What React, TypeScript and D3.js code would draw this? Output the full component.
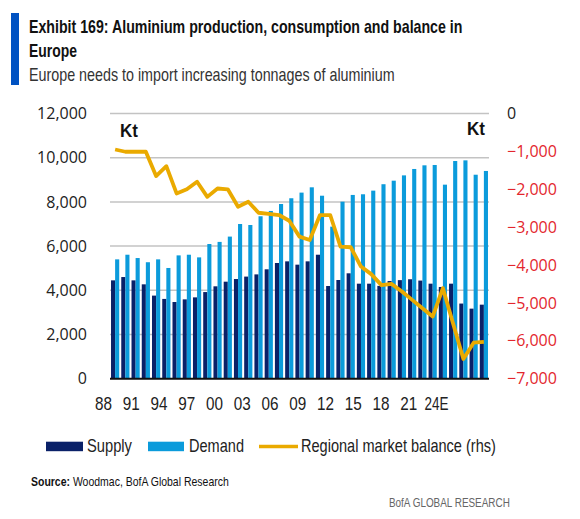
import React, { useLayoutEffect, useRef, useState } from "react";
import * as d3 from "d3";

const years = ["1988","1989","1990","1991","1992","1993","1994","1995","1996","1997","1998","1999","2000","2001","2002","2003","2004","2005","2006","2007","2008","2009","2010","2011","2012","2013","2014","2015","2016","2017","2018","2019","2020","2021","2022","2023","2024"];

const supply = [4450, 4600, 4450, 4270, 3760, 3610, 3470, 3590, 3680, 3920, 4180, 4390,
  4510, 4620, 4720, 4950, 5235, 5310, 5160, 5310, 5610, 4195, 4466, 4769,
  4300, 4300, 4200, 4420, 4460, 4500, 4440, 4300, 4150, 4300, 3400, 3170, 3350];

const demand = [5400, 5610, 5460, 5270, 5400, 5010, 5580, 5610, 5490, 6095, 6190, 6430,
  7000, 6955, 7350, 7590, 7905, 8165, 8420, 8660, 8280, 6880, 8010, 8315,
  8345, 8510, 8800, 8960, 9200, 9490, 9655, 9670, 8780, 9850, 9880, 9230, 9400];

const balance = [-950, -1010, -1010, -1010, -1650, -1390, -2110, -2000, -1800, -2200, -1980, -2000,
  -2460, -2330, -2620, -2650, -2680, -2830, -3250, -3340, -2680, -2680, -3515, -3530,
  -4040, -4240, -4530, -4500, -4700, -4920, -5140, -5360, -4610, -5550, -6480, -6050, -6030];

const xTickLabels = ["88","91","94","97","00","03","06","09","12","15","18","21","24E"];
const leftTicks = [0, 2000, 4000, 6000, 8000, 10000, 12000];
const rightTicks = [0, -1000, -2000, -3000, -4000, -5000, -6000, -7000];

const C_SUPPLY = "#0a2168";
const C_DEMAND = "#0b9bdb";
const C_LINE = "#EAAA00";
const NARROW = "'Liberation Sans Narrow', 'Arial Narrow', 'Liberation Sans', sans-serif";
const AXISF = "'Open Sans', 'Noto Sans', sans-serif";

type FitProps = {
  x: number; y: number; width: number; anchor?: "start" | "middle";
  fontSize: number; fontWeight?: string; fill: string; children: React.ReactNode;
};

function FitText({ x, y, width, anchor = "start", fontSize, fontWeight, fill, children }: FitProps) {
  const ref = useRef<SVGTextElement>(null);
  const [sx, setSx] = useState(1);
  useLayoutEffect(() => {
    if (ref.current) {
      const w = ref.current.getBBox().width;
      if (w > 0) setSx(width / w);
    }
  }, [width]);
  return (
    <g transform={`translate(${x},${y}) scale(${sx},1)`}>
      <text ref={ref} x={0} y={0} textAnchor={anchor} fontFamily={NARROW} fontSize={fontSize} fontWeight={fontWeight} fill={fill}>
        {children}
      </text>
    </g>
  );
}

export default function App() {
  const left = 110, right = 489, top = 113.5, bottom = 378.7;
  const x = d3.scaleBand<string>().domain(years).range([left, right]).paddingInner(0.2).paddingOuter(0.1);
  const yL = d3.scaleLinear().domain([0, 12000]).range([bottom, top]);
  const yR = d3.scaleLinear().domain([-7000, 0]).range([bottom, top]);
  const xl = d3.scalePoint<string>().domain(xTickLabels).range([103.5, 436.5]);
  const bw = x.bandwidth() / 2;
  const fmt = d3.format(",");
  const line = d3.line<number>()
    .x((_, i) => (x(years[i]) as number) + x.bandwidth() / 2)
    .y((d) => yR(d));

  return (
    <svg width={580} height={519} style={{ position: "absolute", left: 0, top: 0, display: "block", background: "#fff" }}>
      {/* header */}
      <rect x={11} y={13} width={8} height={72} fill="#0052C2" />
      <FitText x={29} y={33} width={434} fontSize={18} fontWeight="bold" fill="#111">Exhibit 169: Aluminium production, consumption and balance in</FitText>
      <FitText x={29} y={57} width={48} fontSize={18} fontWeight="bold" fill="#111">Europe</FitText>
      <FitText x={29} y={81} width={366} fontSize={17.5} fill="#333">Europe needs to import increasing tonnages of aluminium</FitText>

      {/* grid */}
      {leftTicks.filter((t) => t > 0).map((t) => (
        <line key={t} x1={left} x2={right} y1={yL(t)} y2={yL(t)} stroke="#c3c3c3" strokeWidth={1.5} />
      ))}

      {/* bars */}
      {years.map((yr, i) => (
        <g key={yr}>
          <rect x={x(yr)} y={yL(supply[i])} width={bw} height={yL(0) - yL(supply[i])} fill={C_SUPPLY} />
          <rect x={(x(yr) as number) + bw} y={yL(demand[i])} width={bw} height={yL(0) - yL(demand[i])} fill={C_DEMAND} />
        </g>
      ))}

      <line x1={left} x2={right} y1={yL(0)} y2={yL(0)} stroke="#111" strokeWidth={2} />

      {/* balance line */}
      <path d={line(balance) || ""} fill="none" stroke={C_LINE} strokeWidth={3.8} strokeLinejoin="round" />

      {/* left axis */}
      {leftTicks.map((t) => (
        <text key={t} x={87} y={yL(t)} dy="0.35em" textAnchor="end" fontFamily={AXISF} fontSize={16} fill="#222">{fmt(t)}</text>
      ))}
      {/* right axis */}
      {rightTicks.map((t) => (
        <text key={t} x={507} y={yR(t)} dy="0.35em" textAnchor="start" fontFamily={AXISF} fontSize={16} fill={t === 0 ? "#222" : "#e3262d"}>{fmt(t)}</text>
      ))}

      {/* Kt labels */}
      <FitText x={120} y={137} width={18} fontSize={18} fontWeight="bold" fill="#111">Kt</FitText>
      <FitText x={467} y={135} width={18} fontSize={18} fontWeight="bold" fill="#111">Kt</FitText>

      {/* x labels */}
      {xTickLabels.map((t) => (
        <FitText key={t} x={xl(t) as number} y={410} width={t.length === 3 ? 24 : 17} anchor="middle" fontSize={18} fill="#222">{t}</FitText>
      ))}

      {/* legend */}
      <rect x={46} y={441.7} width={37} height={9.5} fill={C_SUPPLY} />
      <FitText x={87} y={451.5} width={45} fontSize={18} fill="#222">Supply</FitText>
      <rect x={148} y={441.7} width={36} height={9.5} fill={C_DEMAND} />
      <FitText x={189} y={451.5} width={55} fontSize={18} fill="#222">Demand</FitText>
      <line x1={259} x2={298} y1={446.5} y2={446.5} stroke={C_LINE} strokeWidth={3.5} />
      <FitText x={301} y={451.5} width={195} fontSize={18} fill="#222">Regional market balance (rhs)</FitText>

      {/* source */}
      <FitText x={31} y={486} width={198} fontSize={13} fill="#111">
        <tspan fontWeight="bold">Source:</tspan> Woodmac, BofA Global Research
      </FitText>
      <FitText x={389} y={506.5} width={121} fontSize={13} fill="#666">BofA GLOBAL RESEARCH</FitText>
    </svg>
  );
}
